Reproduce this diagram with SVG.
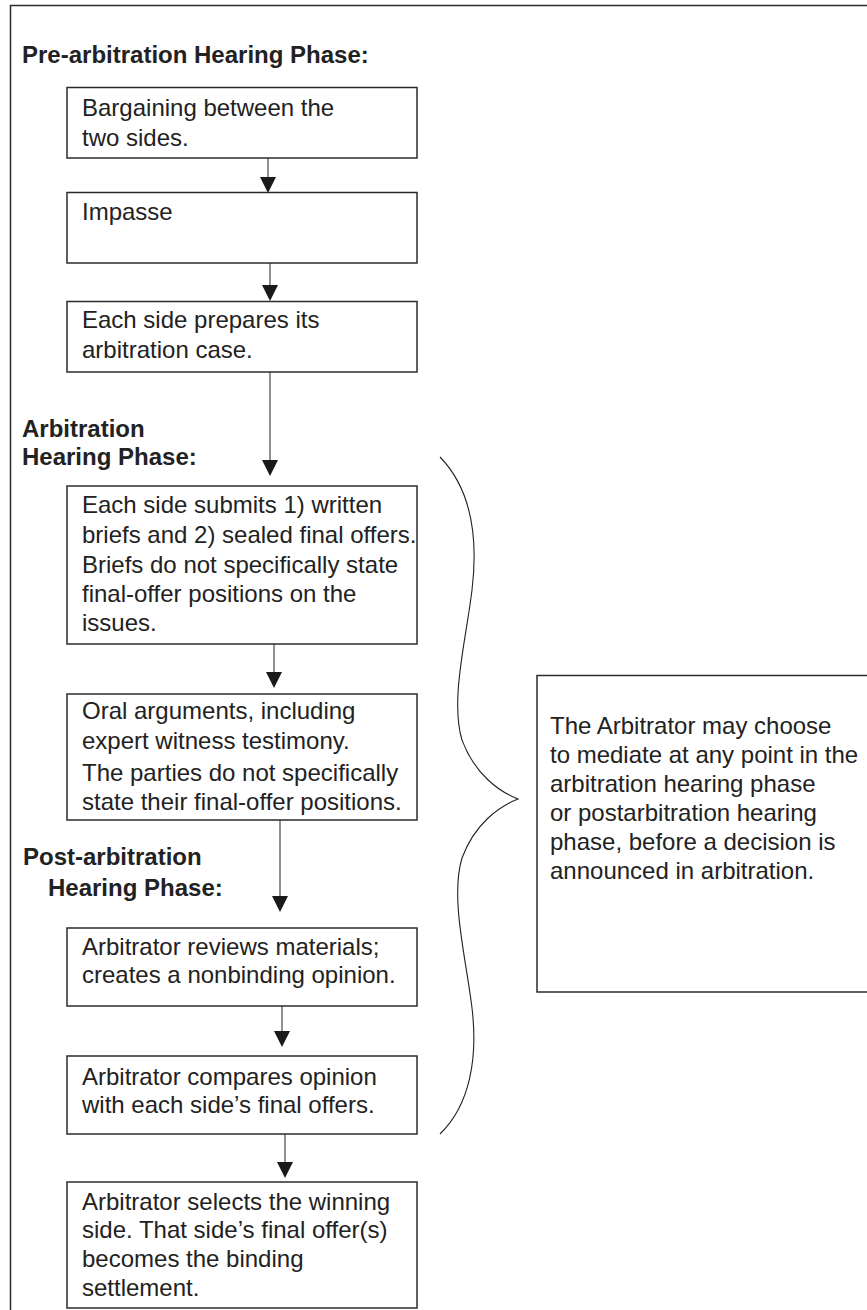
<svg xmlns="http://www.w3.org/2000/svg" width="867" height="1310" viewBox="0 0 867 1310">
<style>
.box{fill:#fff;stroke:#2b2b2b;stroke-width:1.5}
.t{font-family:"Liberation Sans",Arial,sans-serif;font-size:24px;fill:#222}
.h{font-family:"Liberation Sans",Arial,sans-serif;font-size:24px;font-weight:bold;fill:#222}
.c{stroke:#555;stroke-width:1.3;fill:none}
.ah{fill:#1a1a1a}
.frame{stroke:#2b2b2b;stroke-width:1.5;fill:none}
</style>
<rect width="867" height="1310" fill="#fff"/>
<path class="frame" d="M10.5,1310 V5.5 H867"/>
<g id="labels">
<text class="h" x="22" y="63">Pre-arbitration Hearing Phase:</text>
<text class="h" x="22" y="437">Arbitration</text>
<text class="h" x="22" y="465">Hearing Phase:</text>
<text class="h" x="23" y="865">Post-arbitration</text>
<text class="h" x="48" y="896">Hearing Phase:</text>
</g>
<g id="connectors">
<line class="c" x1="268" y1="158" x2="268" y2="177"/>
<line class="c" x1="270" y1="263" x2="270" y2="285"/>
<line class="c" x1="270" y1="372" x2="270" y2="460"/>
<line class="c" x1="274" y1="644" x2="274" y2="672"/>
<line class="c" x1="280" y1="820" x2="280" y2="896"/>
<line class="c" x1="282" y1="1006" x2="282" y2="1031"/>
<line class="c" x1="285" y1="1134" x2="285" y2="1162"/>
<path class="ah" d="M260,177 L276,177 L268,193 Z"/>
<path class="ah" d="M262,285 L278,285 L270,301 Z"/>
<path class="ah" d="M262,460 L278,460 L270,476 Z"/>
<path class="ah" d="M266,672 L282,672 L274,688 Z"/>
<path class="ah" d="M272,896 L288,896 L280,912 Z"/>
<path class="ah" d="M274,1031 L290,1031 L282,1047 Z"/>
<path class="ah" d="M277,1162 L293,1162 L285,1178 Z"/>
<path id="brace" d="M440,457 C472,490 478,540 472,590 C466,640 450,700 462,740 C475,775 500,792 518,799 C500,806 475,823 462,858 C450,898 466,958 472,1008 C478,1058 470,1105 440,1134" fill="none" stroke="#222" stroke-width="1.1"/>
</g>
<g id="n1">
<rect class="box" x="67" y="87.5" width="350" height="70.5"/>
<text class="t" x="82" y="116">Bargaining between the</text>
<text class="t" x="82" y="146">two sides.</text>
</g>
<g id="n2">
<rect class="box" x="67" y="192.5" width="350" height="70.5"/>
<text class="t" x="82" y="220">Impasse</text>
</g>
<g id="n3">
<rect class="box" x="67" y="301.5" width="350" height="70.5"/>
<text class="t" x="82" y="328">Each side prepares its</text>
<text class="t" x="82" y="358">arbitration case.</text>
</g>
<g id="n4">
<rect class="box" x="67" y="486" width="350" height="158"/>
<text class="t" x="82" y="513">Each side submits 1) written</text>
<text class="t" x="82" y="543">briefs and 2) sealed final offers.</text>
<text class="t" x="82" y="573">Briefs do not specifically state</text>
<text class="t" x="82" y="602">final-offer positions on the</text>
<text class="t" x="82" y="631">issues.</text>
</g>
<g id="n5">
<rect class="box" x="67" y="694" width="350" height="126"/>
<text class="t" x="82" y="719">Oral arguments, including</text>
<text class="t" x="82" y="749">expert witness testimony.</text>
<text class="t" x="82" y="781">The parties do not specifically</text>
<text class="t" x="82" y="810">state their final-offer positions.</text>
</g>
<g id="n6">
<rect class="box" x="67" y="928" width="350" height="78"/>
<text class="t" x="82" y="955">Arbitrator reviews materials;</text>
<text class="t" x="82" y="983">creates a nonbinding opinion.</text>
</g>
<g id="n7">
<rect class="box" x="67" y="1056" width="350" height="78"/>
<text class="t" x="82" y="1085">Arbitrator compares opinion</text>
<text class="t" x="82" y="1113">with each side’s final offers.</text>
</g>
<g id="n8">
<rect class="box" x="67" y="1182" width="350" height="126"/>
<text class="t" x="82" y="1210">Arbitrator selects the winning</text>
<text class="t" x="82" y="1238">side. That side’s final offer(s)</text>
<text class="t" x="82" y="1267">becomes the binding</text>
<text class="t" x="82" y="1296">settlement.</text>
</g>
<g id="note">
<path class="frame" d="M867,675.5 H537 V992 H867"/>
<text class="t" x="550" y="734">The Arbitrator may choose</text>
<text class="t" x="550" y="763">to mediate at any point in the</text>
<text class="t" x="550" y="792">arbitration hearing phase</text>
<text class="t" x="550" y="821">or postarbitration hearing</text>
<text class="t" x="550" y="850">phase, before a decision is</text>
<text class="t" x="550" y="879">announced in arbitration.</text>
</g>
</svg>
